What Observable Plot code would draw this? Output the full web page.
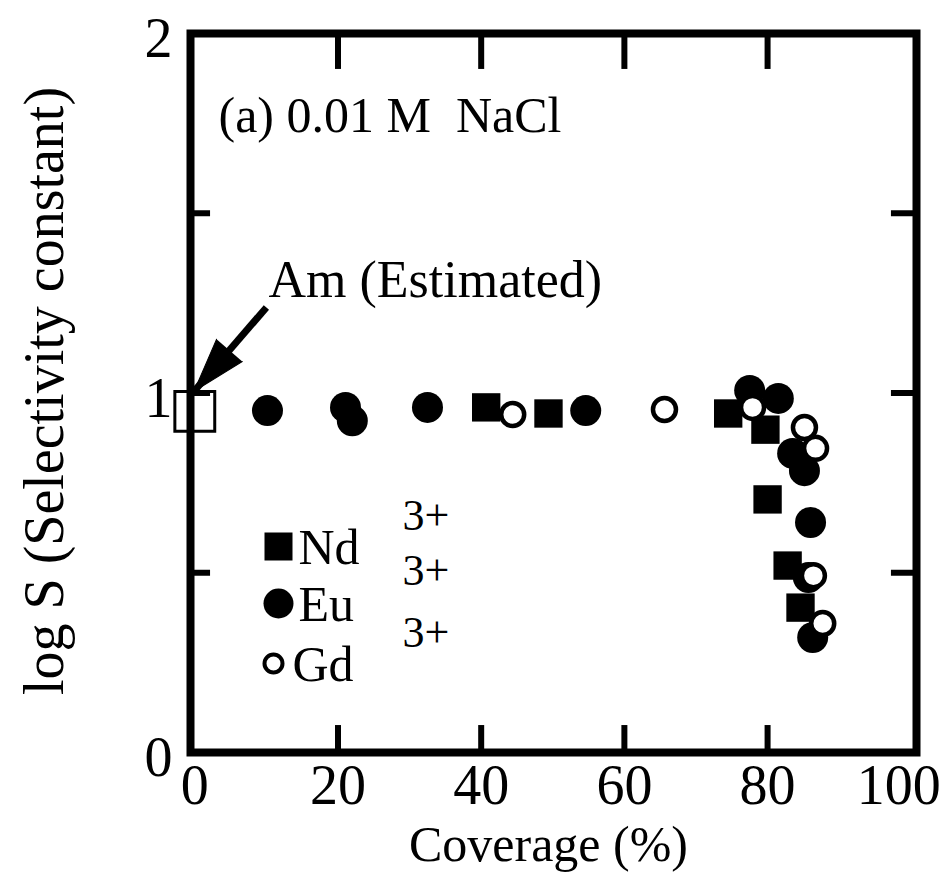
<!DOCTYPE html>
<html><head><meta charset="utf-8">
<script src="https://cdn.jsdelivr.net/npm/d3@7"></script>
<script src="https://cdn.jsdelivr.net/npm/@observablehq/plot@0.6"></script>
<style>html,body{margin:0;padding:0;background:#fff}</style>
</head><body><div id="chart"></div>
<script>
// Data
const ndX = [40.7, 49.4, 74.5, 79.7, 80.0, 82.8, 84.6];
const ndY = [0.960, 0.943, 0.943, 0.898, 0.704, 0.520, 0.403];
const euX = [10.15, 21.05, 22.0, 32.5, 54.6, 77.5, 81.5, 83.5, 85.15, 86.0, 85.7, 86.3];
const euY = [0.951, 0.960, 0.923, 0.960, 0.951, 1.007, 0.985, 0.832, 0.784, 0.640, 0.487, 0.320];
const gdX = [44.4, 65.6, 77.9, 85.15, 86.7, 86.4, 87.7];
const gdY = [0.940, 0.954, 0.960, 0.904, 0.846, 0.492, 0.359];
const amX = [0];
const amY = [0.949];
const species = ["Nd", "Eu", "Gd"];
const charge = "3+";
const xTickLabels = [0, 20, 40, 60, 80];
const xLastTickLabel = [100];
const yTickLabels = [0, 1, 2];
const xInnerTicks = [20, 40, 60, 80];
const yInnerTicks = [0.5, 1, 1.5];
const xTitle = "Coverage (%)";
const yTitle = "log S (Selectivity constant)";
const panelNote = "(a) 0.01 M\u00a0\u00a0NaCl";
const amNote = "Am (Estimated)";
const amArrow = [{x1: 10.0, y1: 1.238, x2: -0.1, y2: 1.005}];

const toRows = (xs, ys) => xs.map((x, i) => ({x, y: ys[i]}));
const nd = toRows(ndX, ndY), eu = toRows(euX, euY), gd = toRows(gdX, gdY), am = toRows(amX, amY);

const legendStyle = [
  {symbol: "square", r: 15.8, fill: "black", stroke: "none", sw: 0},
  {symbol: "circle", r: 15, fill: "black", stroke: "none", sw: 0},
  {symbol: "circle", r: 9, fill: "white", stroke: "black", sw: 4}
];
const legendMarks = species.flatMap((s, i) => {
  const st = legendStyle[i];
  const row = [-206, -149, -89][i];
  return [
    Plot.dot([s], {frameAnchor: "bottom-left", dx: 88 - (i === 2 ? 5 : 0), dy: row, symbol: st.symbol, r: st.r, fill: st.fill, stroke: st.stroke, strokeWidth: st.sw}),
    Plot.text([s], {frameAnchor: "bottom-left", text: d => d, dx: 108 - (i === 2 ? 6 : 0), dy: row + 17, lineAnchor: "bottom", textAnchor: "start", fontSize: 50}),
    Plot.text([charge], {frameAnchor: "bottom-left", text: d => d, dx: 212, dy: row - 17 - (i === 1 ? 2 : 0), lineAnchor: "bottom", textAnchor: "start", fontSize: 44})
  ];
});

const chart = Plot.plot({
  width: 948,
  height: 876,
  marginLeft: 190,
  marginRight: 32,
  marginTop: 33,
  marginBottom: 124,
  style: {fontFamily: "'Liberation Serif', 'Times New Roman', serif", color: "black", background: "white"},
  x: {domain: [-0.6, 100.8]},
  y: {domain: [0, 2]},
  marks: [
    Plot.axisX({ticks: xTickLabels, tickSize: 0, tickPadding: 12, fontSize: 56, label: null}),
    Plot.axisX({ticks: xLastTickLabel, tickSize: 0, tickPadding: 12, fontSize: 56, label: null, dx: -12}),
    Plot.axisY({ticks: yTickLabels, tickFormat: d => String(d), tickSize: 0, tickPadding: 18, fontSize: 56, label: null, dy: 6}),
    Plot.text([xTitle], {frameAnchor: "bottom", text: d => d, dx: -5, dy: 108, lineAnchor: "bottom", fontSize: 50}),
    Plot.text([yTitle], {frameAnchor: "left", text: d => d, dx: -145, dy: -2, rotate: -90, textAnchor: "middle", lineAnchor: "middle", fontSize: 56}),
    Plot.ruleX(xInnerTicks, {x: d => d, y1: 0, y2: 0.075, strokeWidth: 6}),
    Plot.ruleX(xInnerTicks, {x: d => d, y1: 2, y2: 1.9, strokeWidth: 6}),
    Plot.ruleY(yInnerTicks, {y: d => d, x1: -0.6, x2: 2.2, strokeWidth: 6}),
    Plot.ruleY(yInnerTicks, {y: d => d, x1: 100.8, x2: 97.3, strokeWidth: 6}),
    Plot.frame({strokeWidth: 8}),
    Plot.text([panelNote], {frameAnchor: "top-left", text: d => d, dx: 28, dy: 98, lineAnchor: "bottom", textAnchor: "start", fontSize: 50}),
    Plot.text([amNote], {frameAnchor: "top-left", text: d => d, dx: 78, dy: 263, lineAnchor: "bottom", textAnchor: "start", fontSize: 52}),
    Plot.link(amArrow, {x1: "x1", y1: "y1", x2: "x2", y2: "y2", strokeWidth: 7}),
    Plot.vector(amArrow, {x: "x2", y: "y2", anchor: "end", shape: "spike", length: 54, r: 17, rotate: 220.9, fill: "black", stroke: "black", strokeWidth: 1}),
    Plot.dot(am, {x: "x", y: "y", symbol: "square", r: 22.5, fill: "none", stroke: "black", strokeWidth: 3}),
    Plot.dot(nd, {x: "x", y: "y", symbol: "square", r: 16, fill: "black"}),
    Plot.dot(eu, {x: "x", y: "y", symbol: "circle", r: 15.5, fill: "black"}),
    Plot.dot(gd, {x: "x", y: "y", symbol: "circle", r: 11.5, fill: "white", stroke: "black", strokeWidth: 4.5}),
    ...legendMarks
  ]
});
document.getElementById("chart").appendChild(chart);
</script>
</body></html>
